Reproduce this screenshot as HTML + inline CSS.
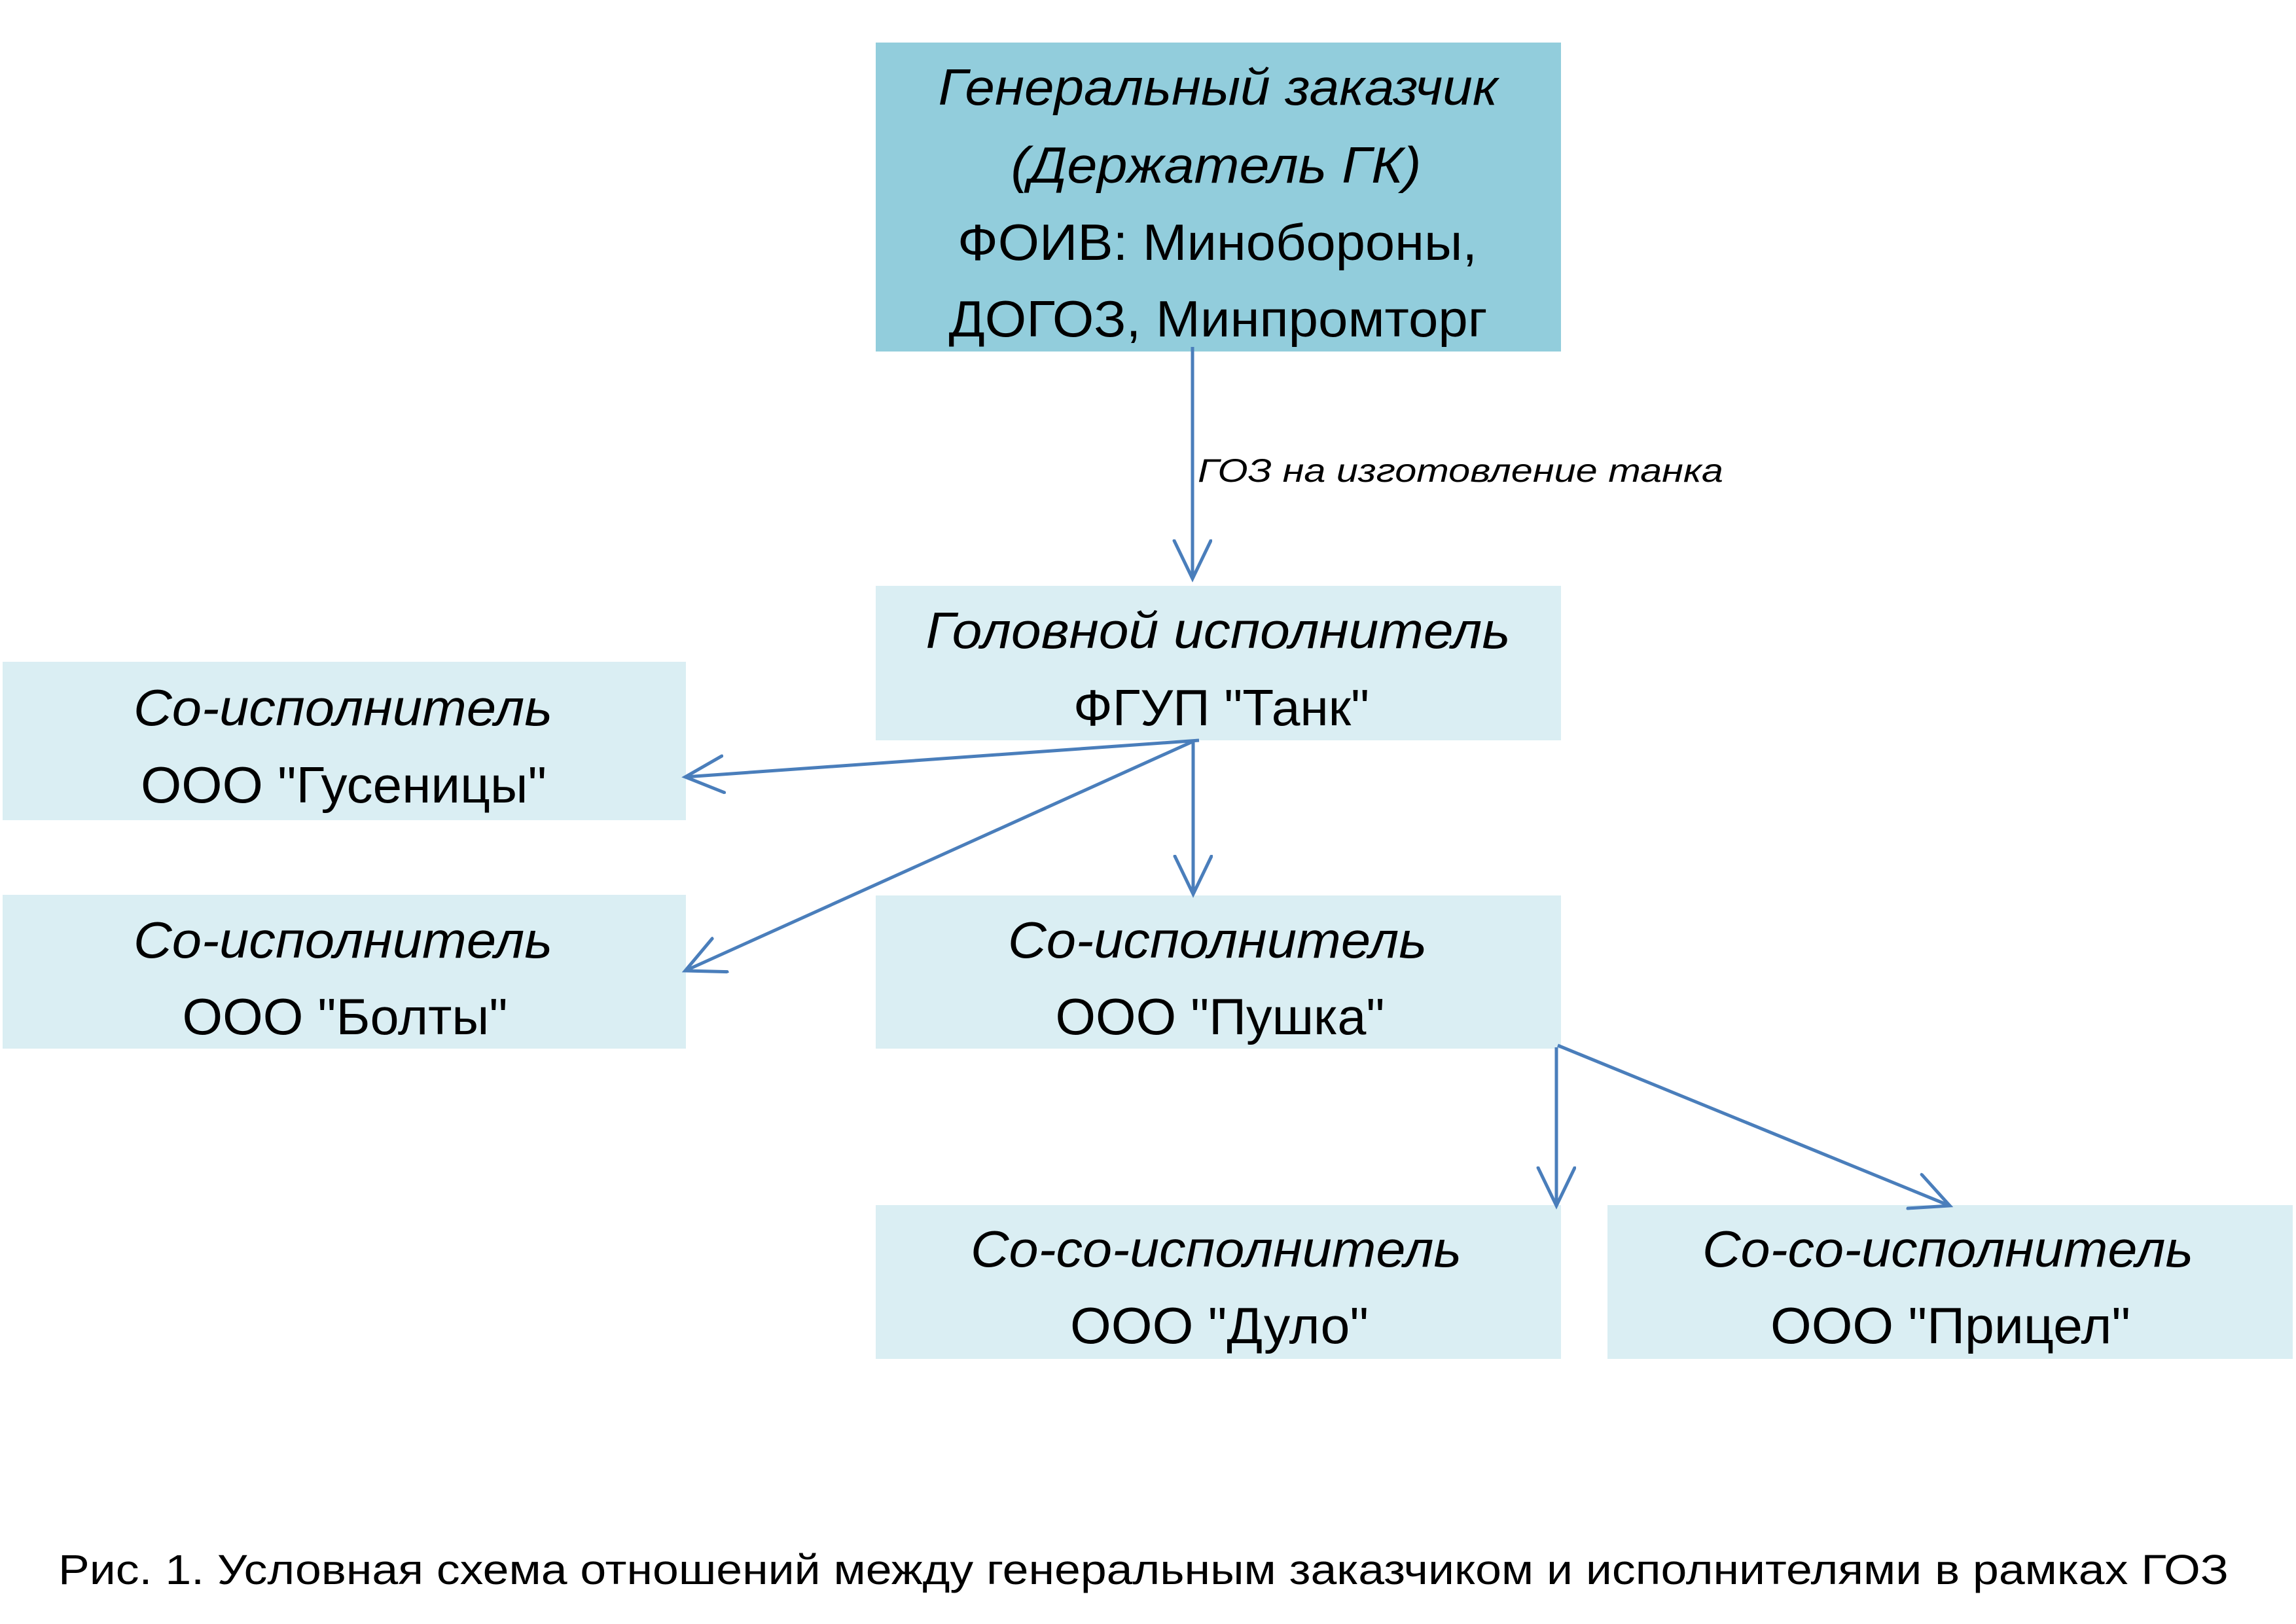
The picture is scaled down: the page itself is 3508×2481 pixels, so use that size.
<!DOCTYPE html>
<html><head><meta charset="utf-8"><style>
html,body{margin:0;padding:0;background:#fff;}
svg{display:block;}
text{font-family:"Liberation Sans","DejaVu Sans",sans-serif;fill:#000;}
.i{font-style:italic;}
</style></head><body>
<svg width="3508" height="2481" viewBox="0 0 3508 2481" xmlns="http://www.w3.org/2000/svg">
<defs>
<marker id="a" markerUnits="userSpaceOnUse" markerWidth="70" markerHeight="70" refX="60" refY="30" orient="auto">
<path d="M2,2 L60,30 L2,58" fill="none" stroke="#4A7EBB" stroke-width="5" stroke-linecap="round"/>
</marker>
</defs>
<rect x="1338" y="65" width="1047" height="472" fill="#92CDDC"/>
<rect x="1338" y="895" width="1047" height="236" fill="#DAEEF3"/>
<rect x="4" y="1011" width="1044" height="242" fill="#DAEEF3"/>
<rect x="4" y="1367" width="1044" height="235" fill="#DAEEF3"/>
<rect x="1338" y="1368" width="1047" height="234" fill="#DAEEF3"/>
<rect x="1338" y="1841" width="1047" height="235" fill="#DAEEF3"/>
<rect x="2456" y="1841" width="1047" height="235" fill="#DAEEF3"/>

<g font-size="78" text-anchor="middle">
<text class="i" x="1861" y="160" textLength="855" lengthAdjust="spacingAndGlyphs">Генеральный заказчик</text>
<text class="i" x="1858" y="279" textLength="627" lengthAdjust="spacingAndGlyphs">(Держатель ГК)</text>
<text x="1860" y="397" textLength="794" lengthAdjust="spacingAndGlyphs">ФОИВ: Минобороны,</text>
<text x="1861" y="514" textLength="823" lengthAdjust="spacingAndGlyphs">ДОГОЗ, Минпромторг</text>
<text class="i" x="1861" y="990" textLength="893" lengthAdjust="spacingAndGlyphs">Головной исполнитель</text>
<text x="1866" y="1108" textLength="452" lengthAdjust="spacingAndGlyphs">ФГУП "Танк"</text>
<text class="i" x="524" y="1108" textLength="640" lengthAdjust="spacingAndGlyphs">Со-исполнитель</text>
<text x="525" y="1226" textLength="620" lengthAdjust="spacingAndGlyphs">ООО "Гусеницы"</text>
<text class="i" x="524" y="1463" textLength="640" lengthAdjust="spacingAndGlyphs">Со-исполнитель</text>
<text x="527" y="1580" textLength="497" lengthAdjust="spacingAndGlyphs">ООО "Болты"</text>
<text class="i" x="1860" y="1463" textLength="640" lengthAdjust="spacingAndGlyphs">Со-исполнитель</text>
<text x="1864" y="1580" textLength="503" lengthAdjust="spacingAndGlyphs">ООО "Пушка"</text>
<text class="i" x="1858" y="1935" textLength="750" lengthAdjust="spacingAndGlyphs">Со-со-исполнитель</text>
<text x="1863" y="2052" textLength="456" lengthAdjust="spacingAndGlyphs">ООО "Дуло"</text>
<text class="i" x="2976" y="1935" textLength="750" lengthAdjust="spacingAndGlyphs">Со-со-исполнитель</text>
<text x="2980" y="2052" textLength="550" lengthAdjust="spacingAndGlyphs">ООО "Прицел"</text>
</g>
<text class="i" x="1830" y="736" font-size="50" textLength="803" lengthAdjust="spacingAndGlyphs">ГОЗ на изготовление танка</text>
<text x="89" y="2420" font-size="64" textLength="3316" lengthAdjust="spacingAndGlyphs">Рис. 1. Условная схема отношений между генеральным заказчиком и исполнителями в рамках ГОЗ</text>

<g stroke="#4A7EBB" stroke-width="5" fill="none">
<line x1="1822" y1="530" x2="1822" y2="884" marker-end="url(#a)"/>
<line x1="1832" y1="1131" x2="1047" y2="1187" marker-end="url(#a)"/>
<line x1="1822" y1="1133" x2="1047" y2="1483" marker-end="url(#a)"/>
<line x1="1823" y1="1133" x2="1823" y2="1366" marker-end="url(#a)"/>
<line x1="2378" y1="1600" x2="2378" y2="1842" marker-end="url(#a)"/>
<line x1="2380" y1="1597" x2="2979" y2="1842" marker-end="url(#a)"/>
</g>
</svg>
</body></html>
